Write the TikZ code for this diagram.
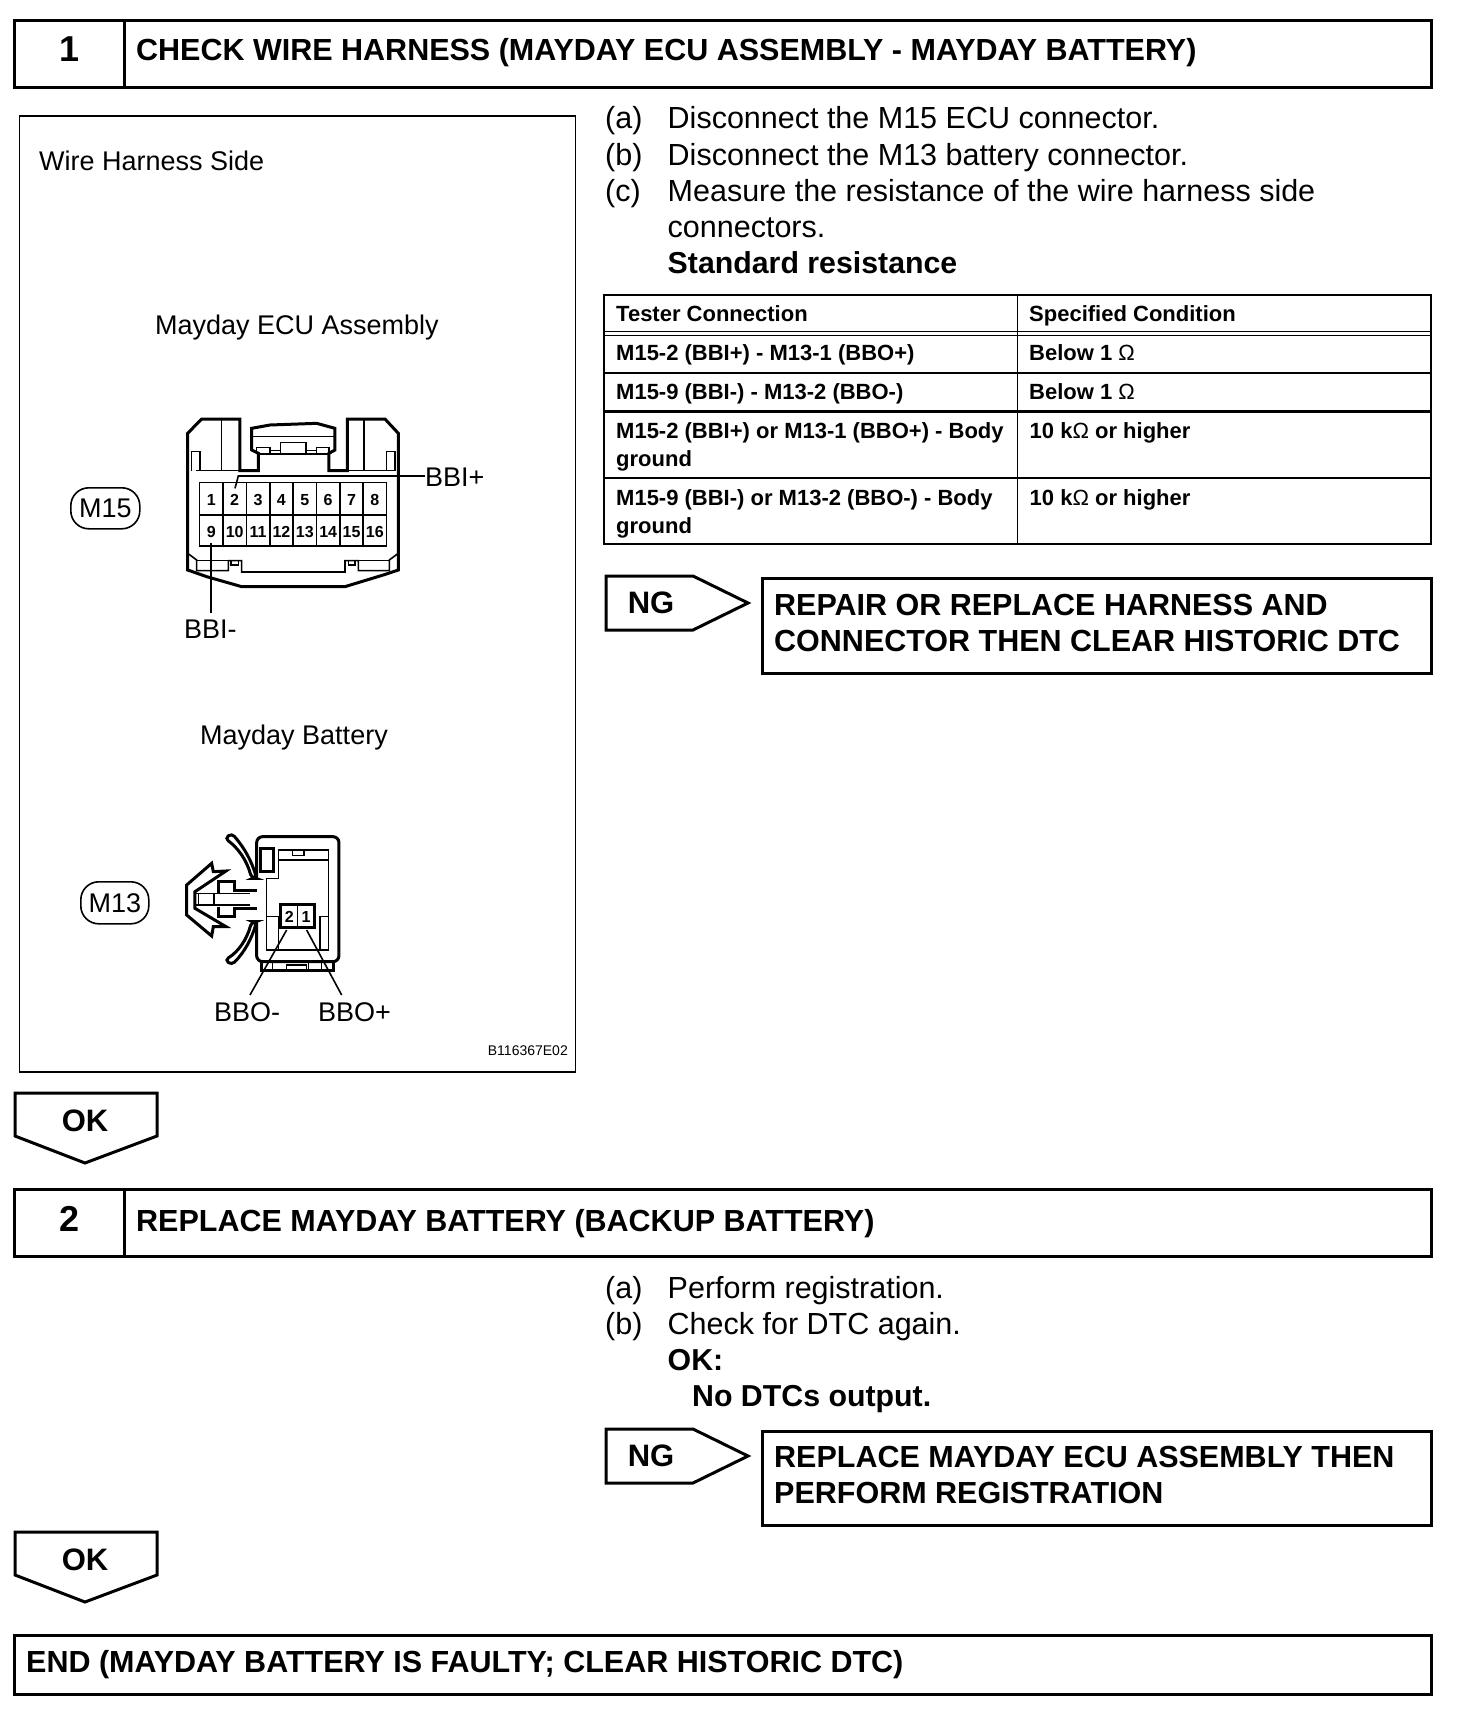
\documentclass[tikz,border=0pt]{standalone}
\usepackage{fontspec}
\setmainfont{Liberation Sans}
\usetikzlibrary{positioning}
\begin{document}
\begin{tikzpicture}[
  x=1pt, y=-1pt,
  heavy/.style={line width=3pt, line join=miter},
  lined/.style={line width=1.6pt},
  fine/.style={line width=1.2pt},
  headbox/.style={draw, heavy, anchor=north west, inner sep=0pt},
  headnum/.style={font=\fontsize{36}{36}\selectfont\bfseries},
  headtext/.style={anchor=base west, inner sep=0pt, font=\fontsize{30.5}{30}\selectfont\bfseries},
  body/.style={anchor=base west, inner sep=0pt, font=\fontsize{30.5}{30}\selectfont},
  bodybold/.style={anchor=base west, inner sep=0pt, font=\fontsize{30.3}{30}\selectfont\bfseries},
  side/.style={anchor=base, inner sep=0pt, font=\fontsize{27}{27}\selectfont},
  cell/.style={anchor=base west, inner sep=0pt, font=\fontsize{22}{22}\selectfont\bfseries},
  tag/.style={font=\fontsize{31}{31}\selectfont\bfseries, inner sep=0pt},
  badge/.style={draw, lined, rounded corners=18pt, anchor=north west, inner sep=0pt, font=\fontsize{27}{27}\selectfont, align=center},
  pin/.style={inner sep=0pt, font=\fontsize{16}{16}\selectfont\bfseries}
]
\useasboundingbox (0,0) rectangle (1456,1710);
\fill[white] (0,0) rectangle (1456,1710);

% step 1 header
\node[headbox, minimum width=1417pt, minimum height=67pt] (headone) at (13,19) {};
\draw[heavy] (124,19) -- (124,86);
\node[headnum] (numone) at (70,49) {1};
\node[headtext] (titleone) at (136,60) {CHECK WIRE HARNESS (MAYDAY ECU ASSEMBLY - MAYDAY BATTERY)};

% left frame
\node[draw, lined, anchor=north west, minimum width=556pt, minimum height=956pt, inner sep=0pt] (frame) at (18.5,115) {};
\node[side, anchor=base west] (wireside) at (39,170) {Wire Harness Side};
\node[side] (ecuname) at (297,334) {Mayday ECU Assembly};
\node[side] (batname) at (294,744) {Mayday Battery};
\node[badge, minimum width=69pt, minimum height=41pt] (mfifteen) at (70,487) {M15};
\node[badge, minimum width=68pt, minimum height=42pt] (mthirteen) at (80,881) {M13};
\node[side, anchor=base east, font=\fontsize{14}{14}\selectfont] (code) at (568,1055) {B116367E02};

% ECU connector
\begin{scope}[shift={(150,400)}, x=.3333pt, y=-.3333pt]
  \draw[heavy] (113,100) -- (155,57) -- (270,57) -- (270,212) -- (325,212) -- (325,160) -- (305,150) -- (305,85) -- (360,75) -- (500,70) -- (555,85) -- (555,150) -- (537,160) -- (537,212) -- (592,212) -- (592,57) -- (705,57) -- (745,100) -- (745,510) -- (700,525) -- (585,560) -- (275,560) -- (170,530) -- (113,510) -- cycle;
  \draw[lined] (305,110) -- (555,110);
  \draw[lined] (215,57) -- (215,212) (642,57) -- (642,212);
  \draw[lined] (137,212) -- (270,212) (592,212) -- (735,212);
  \draw[lined] (125,212) -- (125,155) -- (150,155) -- (150,212);
  \draw[lined] (710,212) -- (710,155) -- (735,155) -- (735,212);
  \draw[lined] (320,160) -- (320,142) -- (360,142) -- (360,160) -- cycle;
  \draw[lined] (500,160) -- (500,142) -- (537,142) -- (537,160) -- cycle;
  \draw[lined] (392,160) rectangle (468,128);
  \draw[lined] (360,152) -- (392,152) (468,152) -- (500,152);
  \draw[lined] (325,162) -- (537,162);
  \draw[lined] (113,460) -- (140,480) -- (140,512) -- (235,512) -- (235,482) -- (275,482) -- (275,516) -- (585,516) -- (585,482) -- (625,482) -- (625,512) -- (718,512) -- (718,480) -- (745,460);
  \draw[lined] (140,482) -- (235,482) (625,482) -- (718,482);
  \draw[lined] (243,482) rectangle (265,495) (595,482) rectangle (615,495);
  % pin grid
  \draw[lined] (149,248) rectangle (710,438);
  \draw[lined] (149,345) -- (710,345);
  \foreach \n in {1,...,7} \draw[lined] ({149+70.1*\n},248) -- ({149+70.1*\n},438);
  \foreach \n in {1,...,8} \node[pin] (pin\n) at ({184+70.1*(\n-1)},300) {\n};
  \foreach \n in {9,...,16} \node[pin] (pin\n) at ({184+70.1*(\n-9)},395) {\n};
  \coordinate (pluspin) at (255,265);
  \coordinate (minuspin) at (183,428);
  \node[side, anchor=base west] (bbiplus) at (825,260) {BBI+};
  \node[side, anchor=base west] (bbiminus) at (102,716) {BBI-};
  \draw[lined] (pluspin) -- (265,228) -- (bbiplus.west |- 0,228);
  \draw[lined] (minuspin) -- (183,638);
\end{scope}

% battery connector
\begin{scope}[shift={(150,810)}, x=.3333pt, y=-.3333pt]
  \draw[heavy, rounded corners=6pt] (320,205) -- (320,80) -- (567,80) -- (567,455) -- (320,455) -- (320,335);
  \draw[lined] (350,205) -- (385,205) -- (385,120) -- (535,120) -- (535,420) -- (350,420) -- cycle;
  \draw[lined] (385,150) -- (535,150);
  \draw[lined] (428,120) rectangle (462,137);
  \draw[heavy] (333,115) rectangle (370,183);
  \draw[lined] (350,320) -- (385,320) -- (385,420) (510,420) -- (510,320) -- (535,320);
  \draw[heavy, fill=white] (392,282) rectangle (495,352);
  \draw[lined] (443,282) -- (443,352);
  \draw[heavy] (335,455) -- (335,482) -- (550,482) -- (550,455);
  \draw[lined] (367,460) -- (367,482) (515,460) -- (515,482) (475,460) -- (475,482) (410,465) rectangle (470,482);
  \node[pin] (pintwo) at (418,322) {2};
  \node[pin] (pinone) at (468,322) {1};
  % clip
  \draw[heavy] (110,225) -- (185,160) -- (190,185) -- (228,183) -- (135,245) -- (135,295) -- (228,350) -- (190,350) -- (185,378) -- (110,315) -- cycle;
  \draw[heavy] (205,250) -- (205,215) -- (255,215) -- (255,240) -- (320,240);
  \draw[heavy] (205,290) -- (205,320) -- (255,320) -- (255,295) -- (320,295);
  \draw[lined] (135,250) -- (300,250) (135,285) -- (300,285) (145,250) -- (145,285) (192,250) -- (192,285);
  \draw[heavy, rounded corners=4pt] (245,70) .. controls (285,115) and (305,155) .. (320,205) -- (305,205) .. controls (290,150) and (265,115) .. (225,85) -- cycle;
  \draw[heavy, rounded corners=4pt] (245,465) .. controls (285,425) and (305,385) .. (320,335) -- (305,335) .. controls (290,390) and (265,425) .. (225,450) -- cycle;
  \coordinate (twopin) at (410,360);
  \coordinate (onepin) at (470,360);
  \node[side, anchor=base west] (bbominus) at (192,634) {BBO-};
  \node[side, anchor=base west] (bboplus) at (504,634) {BBO+};
  \coordinate (minusend) at (300,555);
  \coordinate (plusend) at (575,555);
  \draw[lined] (twopin) -- (minusend);
  \draw[lined] (onepin) -- (plusend);
\end{scope}

% step 1 instructions
\node[body] (ca) at (605,128) {(a)};
\node[body] (cb) at (605,165) {(b)};
\node[body] (cc) at (605,201) {(c)};
\node[body] (ta) at (667.5,128) {Disconnect the M15 ECU connector.};
\node[body] (tb) at (667.5,165) {Disconnect the M13 battery connector.};
\node[body] (tc) at (667.5,201) {Measure the resistance of the wire harness side};
\node[body] (td) at (667.5,237) {connectors.};
\node[bodybold] (te) at (667.5,273) {Standard resistance};

% table
\draw[lined] (604,295) rectangle (1431,544);
\draw[lined] (1017.5,295) -- (1017.5,544);
\draw[lined] (604,331.5) -- (1431,331.5) (604,335.5) -- (1431,335.5);
\draw[lined] (604,373) -- (1431,373);
\draw[heavy] (604,411) -- (1431,411);
\draw[lined] (604,478) -- (1431,478);
\node[cell] (hleft) at (616,321) {Tester Connection};
\node[cell] (hright) at (1029,321) {Specified Condition};
\node[cell] (ra) at (616,360) {M15-2 (BBI+) - M13-1 (BBO+)};
\node[cell] (rb) at (1029,360) {Below 1 \textnormal{Ω}};
\node[cell] (rc) at (616,399) {M15-9 (BBI-) - M13-2 (BBO-)};
\node[cell] (rd) at (1029,399) {Below 1 \textnormal{Ω}};
\node[cell] (re) at (616,438) {M15-2 (BBI+) or M13-1 (BBO+) - Body};
\node[cell] (rf) at (616,466) {ground};
\node[cell] (rg) at (1029.5,438) {10 k\textnormal{Ω} or higher};
\node[cell] (rh) at (616,505) {M15-9 (BBI-) or M13-2 (BBO-) - Body};
\node[cell] (ri) at (616,533) {ground};
\node[cell] (rj) at (1029.5,505) {10 k\textnormal{Ω} or higher};

% NG one
\draw[heavy] (606,576) -- (693,576) -- (748,603) -- (693,630) -- (606,630) -- cycle;
\node[tag] (ngone) at (651,603) {NG};
\node[headbox, minimum width=669pt, minimum height=95pt] (repairbox) at (761,577) {};
\node[headtext] (repairone) at (774,615) {REPAIR OR REPLACE HARNESS AND};
\node[headtext] (repairtwo) at (774,651) {CONNECTOR THEN CLEAR HISTORIC DTC};

% OK one
\draw[heavy] (15,1093) -- (157,1093) -- (157,1136) -- (85,1163) -- (15,1136) -- cycle;
\node[tag] (okone) at (85,1121) {OK};

% step 2 header
\node[headbox, minimum width=1417pt, minimum height=67pt] (headtwo) at (13,1188) {};
\draw[heavy] (124,1188) -- (124,1255);
\node[headnum] (numtwo) at (70,1219) {2};
\node[headtext] (titletwo) at (136,1231) {REPLACE MAYDAY BATTERY (BACKUP BATTERY)};

% step 2 instructions
\node[body] (da) at (605,1298) {(a)};
\node[body] (db) at (605,1334) {(b)};
\node[body] (ua) at (667.5,1298) {Perform registration.};
\node[body] (ub) at (667.5,1334) {Check for DTC again.};
\node[bodybold] (uc) at (667.5,1370) {OK:};
\node[bodybold] (ud) at (692,1406) {No DTCs output.};

% NG two
\draw[heavy] (606,1429) -- (693,1429) -- (748,1456) -- (693,1483) -- (606,1483) -- cycle;
\node[tag] (ngtwo) at (651,1456) {NG};
\node[headbox, minimum width=669pt, minimum height=94pt] (replacebox) at (761,1430) {};
\node[headtext] (replaceone) at (774,1467) {REPLACE MAYDAY ECU ASSEMBLY THEN};
\node[headtext] (replacetwo) at (774,1503) {PERFORM REGISTRATION};

% OK two
\draw[heavy] (15,1532) -- (157,1532) -- (157,1575) -- (85,1602) -- (15,1575) -- cycle;
\node[tag] (oktwo) at (85,1560) {OK};

% end
\node[headbox, minimum width=1417pt, minimum height=59pt] (endbox) at (13,1634) {};
\node[headtext] (endtext) at (26,1672) {END (MAYDAY BATTERY IS FAULTY; CLEAR HISTORIC DTC)};
\end{tikzpicture}
\end{document}
